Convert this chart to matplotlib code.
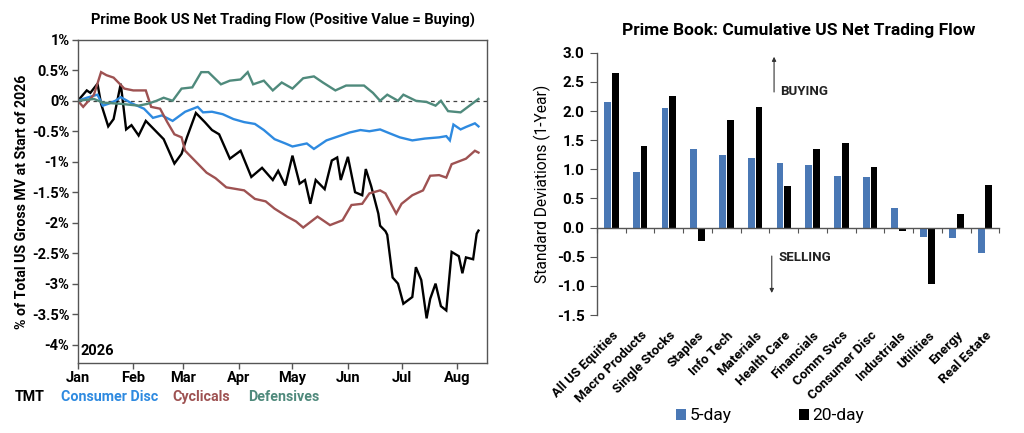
import matplotlib
matplotlib.use("Agg")
import matplotlib.pyplot as plt
import matplotlib.dates as mdates
import matplotlib.ticker as mticker
import pandas as pd
import numpy as np

# ---------------- Left chart data (% of total US gross MV) ----------------
tmt_dates = ["01-01","01-06","01-08","01-12","01-14","01-18","01-21","01-25","01-28","01-31",
             "02-04","02-08","02-12","02-18","02-24","02-28","03-03","03-08","03-13","03-17",
             "03-21","03-27","04-02","04-08","04-14","04-20","04-23","04-27","05-01","05-05",
             "05-08","05-11","05-14","05-19","05-23","05-26","05-28","06-01","06-05","06-09",
             "06-11","06-14","06-18","06-19","06-22","06-23","06-26","06-29","07-02","07-07",
             "07-09","07-12","07-15","07-17","07-20","07-23","07-26","07-29","08-02","08-04",
             "08-06","08-10","08-12","08-13"]
tmt_vals = [0.00,0.17,0.13,0.28,-0.05,-0.42,-0.30,0.28,-0.47,-0.40,
            -0.57,-0.33,-0.45,-0.63,-1.03,-0.87,-0.60,-0.20,-0.35,-0.48,
            -0.55,-0.95,-0.82,-1.25,-1.10,-1.30,-1.15,-1.39,-0.90,-1.36,
            -1.30,-1.69,-1.30,-1.45,-0.98,-0.93,-1.30,-0.92,-1.50,-1.55,
            -1.12,-1.40,-1.85,-2.05,-2.14,-2.20,-2.90,-3.00,-3.33,-3.22,
            -2.73,-2.94,-3.57,-3.25,-3.00,-3.37,-3.44,-2.48,-2.55,-2.83,
            -2.57,-2.60,-2.18,-2.13]

cd_dates = ["01-01","01-06","01-12","01-15","01-18","01-22","01-25","01-31","02-07","02-12",
            "02-17","02-23","03-02","03-09","03-12","03-17","03-23","03-29","04-04","04-10",
            "04-15","04-21","04-27","05-01","05-09","05-13","05-20","05-27","06-02","06-08",
            "06-13","06-19","06-24","06-30","07-07","07-14","07-22","07-26","07-28","07-30",
            "08-03","08-06","08-11","08-13"]
cd_vals = [0.00,0.05,0.10,-0.08,-0.05,0.00,0.06,-0.04,-0.13,-0.28,
           -0.24,-0.33,-0.18,-0.10,-0.19,-0.18,-0.22,-0.30,-0.35,-0.38,
           -0.48,-0.63,-0.70,-0.75,-0.70,-0.79,-0.65,-0.58,-0.52,-0.48,
           -0.50,-0.47,-0.53,-0.60,-0.65,-0.62,-0.60,-0.58,-0.65,-0.39,
           -0.47,-0.43,-0.37,-0.42]

cyc_dates = ["01-01","01-04","01-10","01-14","01-17","01-21","01-27","02-01","02-08","02-11",
             "02-16","02-20","02-24","02-28","03-02","03-08","03-14","03-19","03-25","04-04",
             "04-10","04-16","04-21","04-28","05-03","05-07","05-15","05-22","05-29","06-03",
             "06-09","06-13","06-19","06-22","06-28","07-01","07-07","07-13","07-17","07-22",
             "07-26","07-29","08-06","08-11","08-13"]
cyc_vals = [0.00,-0.10,0.10,0.47,0.42,0.38,0.20,0.17,0.17,-0.10,
            -0.13,-0.35,-0.55,-0.60,-0.82,-1.00,-1.18,-1.27,-1.42,-1.47,
            -1.61,-1.65,-1.77,-1.90,-1.98,-2.08,-1.90,-2.04,-1.96,-1.71,
            -1.69,-1.52,-1.47,-1.52,-1.85,-1.69,-1.55,-1.47,-1.23,-1.22,
            -1.26,-1.04,-0.95,-0.82,-0.85]

def_dates = ["01-01","01-10","01-15","01-25","02-04","02-09","02-14","02-18","02-23","02-28",
             "03-06","03-11","03-15","03-22","03-27","04-02","04-06","04-09","04-15","04-20",
             "04-25","05-01","05-07","05-13","05-18","05-25","05-31","06-10","06-15","06-19",
             "06-23","06-29","07-02","07-09","07-15","07-20","07-23","07-27","08-03","08-08",
             "08-13"]
def_vals = [0.00,0.03,-0.03,-0.05,-0.08,-0.05,0.00,0.05,0.00,0.20,
            0.22,0.47,0.47,0.27,0.33,0.35,0.47,0.27,0.33,0.17,
            0.30,0.20,0.37,0.40,0.30,0.17,0.25,0.25,0.13,0.00,
            0.10,0.00,0.10,0.00,-0.02,-0.08,0.00,-0.17,-0.19,-0.08,
            0.03]

series_names = ["TMT", "Consumer Disc", "Cyclicals", "Defensives"]
series_colors = ["#000000", "#2e8ae0", "#9e5252", "#4f8a7c"]
month_labels = ["Jan","Feb","Mar","Apr","May","Jun","Jul","Aug"]

# ---------------- Right chart data (standard deviations) ----------------
categories = ["All US Equities","Macro Products","Single Stocks","Staples","Info Tech",
              "Materials","Health Care","Financials","Comm Svcs","Consumer Disc",
              "Industrials","Utilities","Energy","Real Estate"]
five_day = [2.15,0.96,2.06,1.35,1.24,1.20,1.11,1.07,0.88,0.87,0.33,-0.16,-0.17,-0.44]
twenty_day = [2.66,1.40,2.26,-0.23,1.84,2.07,0.72,1.35,1.45,1.04,-0.06,-0.96,0.23,0.73]

def to_dates(lst):
    return pd.to_datetime(["2026-" + d for d in lst])

plt.rcParams['font.family'] = ['Roboto', 'DejaVu Sans']

fig = plt.figure(figsize=(10.24, 4.33), dpi=100)

# ---------------- Left chart ----------------
ax1 = fig.add_axes([0.076, 0.162, 0.400, 0.746])
all_series = [(tmt_dates, tmt_vals), (cd_dates, cd_vals), (cyc_dates, cyc_vals), (def_dates, def_vals)]
for (d, v), c in zip(all_series, series_colors):
    ax1.plot(to_dates(d), v, color=c, lw=1.7, solid_joinstyle='miter')
ax1.axhline(0, color="#444444", lw=0.9, ls=(0, (3, 3)), zorder=0)
ax1.set_ylim(-4.3, 1.0)
ax1.set_xlim(pd.Timestamp("2026-01-01"), pd.Timestamp("2026-08-18"))
ax1.set_yticks(np.arange(-4, 1.01, 0.5))
ax1.yaxis.set_major_formatter(mticker.FuncFormatter(
    lambda v, p: (f"{v:.0f}%" if abs(v - round(v)) < 1e-9 else f"{v:.1f}%").replace("-0%", "0%")))
month_ticks = pd.date_range("2026-01-01", periods=8, freq="MS")
ax1.set_xticks(month_ticks)
ax1.set_xticklabels(month_labels)
for lab in ax1.get_xticklabels():
    lab.set_fontweight("bold")
    lab.set_fontsize(10.5)
for lab in ax1.get_yticklabels():
    lab.set_fontweight("bold")
    lab.set_fontsize(10.5)
ax1.tick_params(axis="both", direction="out", length=4, width=1, color="#555555", pad=2)
for s in ax1.spines.values():
    s.set_color("#555555")
    s.set_linewidth(1.0)
ax1.set_ylabel("% of Total US Gross MV at Start of 2026", fontsize=10.2, fontweight="bold", labelpad=2)
ax1.set_title("Prime Book US Net Trading Flow (Positive Value = Buying)", fontsize=10.5,
              fontweight="bold", pad=11)
ax1.text(0.006, 0.015, "2026", transform=ax1.transAxes, fontsize=10.5, fontweight="bold",
         ha="left", va="bottom")
xs = [0.014, 0.060, 0.168, 0.242]
for name, c, x in zip(series_names, series_colors, xs):
    fig.text(x, 0.083, name, color=c, fontsize=10.3, fontweight="bold", ha="left", va="center")

# ---------------- Right chart ----------------
ax2 = fig.add_axes([0.583, 0.2725, 0.393, 0.6055])
idx = np.arange(len(categories))
w = 0.24
ax2.bar(idx - 0.135, five_day, width=w, color="#4a78b5", label="5-day", zorder=2)
ax2.bar(idx + 0.135, twenty_day, width=w, color="#000000", label="20-day", zorder=2)
ax2.set_xlim(-0.5, len(categories) - 0.5)
ax2.set_ylim(-1.5, 3.0)
ax2.set_yticks(np.arange(-1.5, 3.01, 0.5))
ax2.yaxis.set_major_formatter(mticker.FormatStrFormatter("%.1f"))
for lab in ax2.get_yticklabels():
    lab.set_fontweight("bold")
    lab.set_fontsize(11)
ax2.spines["top"].set_visible(False)
ax2.spines["right"].set_visible(False)
ax2.spines["bottom"].set_position(("data", 0))
for s in ["left", "bottom"]:
    ax2.spines[s].set_color("#555555")
    ax2.spines[s].set_linewidth(1.0)
ax2.set_xticks(np.arange(-0.5, len(categories), 1.0))
ax2.set_xticklabels([])
ax2.tick_params(axis="x", direction="out", length=3.5, color="#555555")
ax2.tick_params(axis="y", direction="out", length=5, color="#555555", pad=4)
sec = ax2.secondary_xaxis(0.0)
sec.set_xticks(idx)
sec.set_xticklabels(categories, rotation=45, ha="right", rotation_mode="anchor",
                    fontsize=9.5, fontweight="bold")
sec.tick_params(length=0, pad=10)
sec.spines["bottom"].set_visible(False)
ax2.set_ylabel("Standard Deviations (1-Year)", fontsize=11.2, labelpad=4)
ax2.set_title("Prime Book: Cumulative US Net Trading Flow", fontsize=12.5, fontweight="bold", pad=13)

ax2.annotate("", xy=(5.66, 2.98), xytext=(5.66, 2.28),
             arrowprops=dict(arrowstyle="-|>", color="#333333", lw=0.8, mutation_scale=6))
ax2.annotate("", xy=(5.58, -1.17), xytext=(5.58, -0.44),
             arrowprops=dict(arrowstyle="-|>", color="#333333", lw=0.8, mutation_scale=6))
ax2.text(5.88, 2.34, "BUYING", fontsize=9.5, fontweight="bold", ha="left", va="center", color="#222222")
ax2.text(5.80, -0.51, "SELLING", fontsize=9.5, fontweight="bold", ha="left", va="center", color="#222222")

ax2.legend(loc="center", bbox_to_anchor=(0.43, -0.385), ncol=2, frameon=False, fontsize=12.5,
           handlelength=0.55, handleheight=0.55, handletextpad=0.2, columnspacing=3.9,
           borderpad=0.2)

fig.savefig("out.png", dpi=100)
